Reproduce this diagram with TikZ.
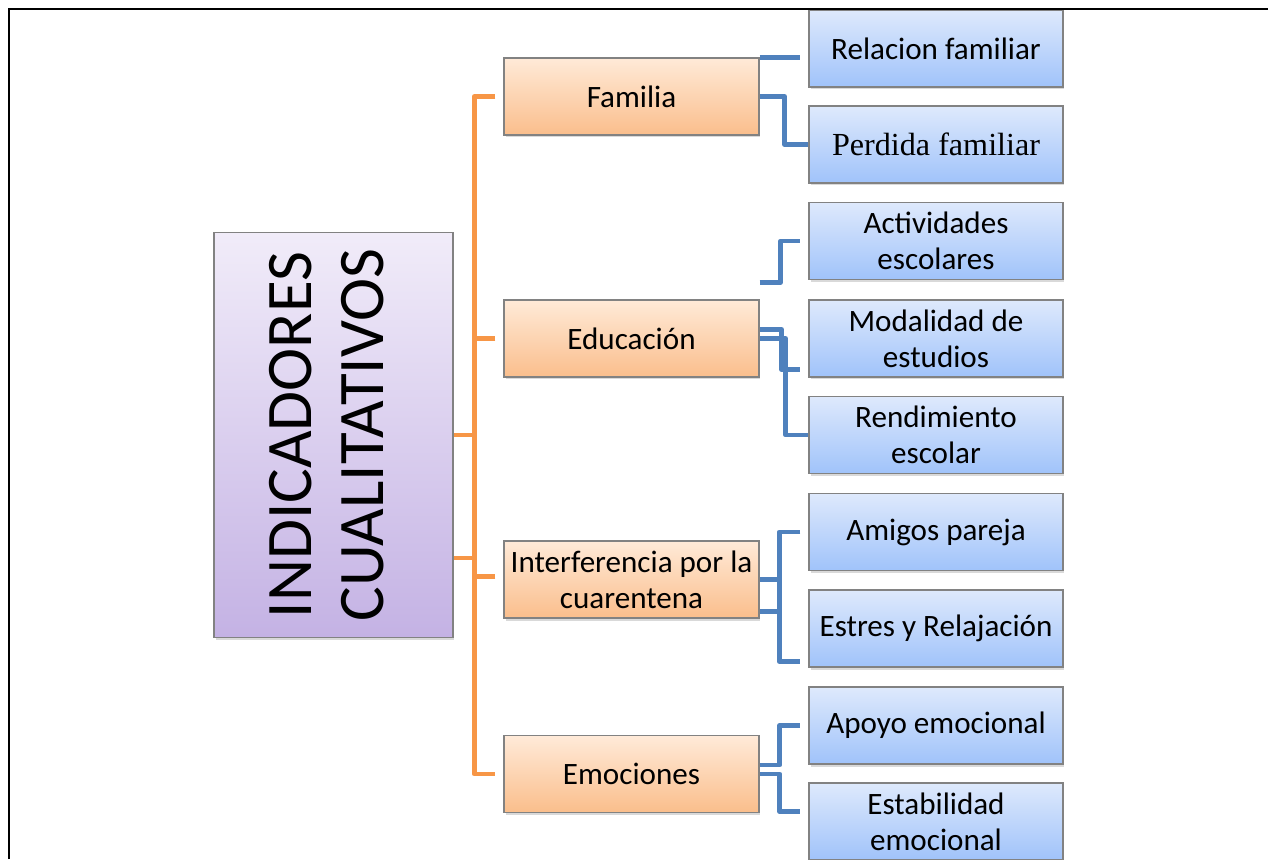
\documentclass[tikz,border=0pt]{standalone}
\usepackage{fontspec}
\setmainfont{Carlito}
\newfontfamily\cambriafont{Liberation Serif}
\usepackage{graphicx}
\usetikzlibrary{calc,shadows}

\definecolor{borde}{RGB}{130,130,130}
\definecolor{naranja}{RGB}{247,150,70}
\definecolor{azul}{RGB}{79,129,189}
\definecolor{naranjaA}{RGB}{255,234,216}
\definecolor{naranjaB}{RGB}{250,190,140}
\definecolor{azulA}{RGB}{222,233,252}
\definecolor{azulB}{RGB}{160,195,250}
\definecolor{moradoA}{RGB}{241,236,249}
\definecolor{moradoB}{RGB}{196,178,228}

\begin{document}
\begin{tikzpicture}[x=0.02cm, y=-0.02cm,
            basebox/.style={draw=borde, line width=0.8pt, inner sep=1pt, align=center,
                font=\fontsize{17.7}{20.5}\selectfont,
                drop shadow={shadow xshift=0.03cm, shadow yshift=-0.05cm, opacity=0.3}},
            mainbox/.style={basebox, top color=moradoA, bottom color=moradoB,
                minimum width=4.78cm, minimum height=8.1cm, inner sep=0pt,
                font=\fontsize{37}{41}\selectfont},
            catbox/.style={basebox, top color=naranjaA, bottom color=naranjaB,
                minimum width=5.1cm, minimum height=1.54cm},
            leafbox/.style={basebox, top color=azulA, bottom color=azulB,
                minimum width=5.08cm, minimum height=1.54cm},
            orangeline/.style={draw=naranja, line width=2.8pt, line join=round},
            blueline/.style={draw=azul, line width=2.7pt, line join=round}]
            \useasboundingbox (0,0) rectangle (1268,859);
            % cuadro principal
            \draw (333.5,435) node[mainbox] (ind)
                {\rotatebox{90}{\begin{tabular}{@{}c@{}}INDICADORES\\CUALITATIVOS\end{tabular}}};
            % categorias
            \draw (631.5,96.5) node[catbox] (fam) {Familia};
            \draw (631.5,338.5) node[catbox] (edu) {Educación};
            \draw (631.5,579.5) node[catbox] (intf) {Interferencia por la\\cuarentena};
            \draw (631.5,774) node[catbox] (emo) {Emociones};
            % indicadores
            \draw (936,48.5) node[leafbox] (rel) {Relacion familiar};
            \draw (936,144.5) node[leafbox, font=\cambriafont\fontsize{18.3}{21}\selectfont] (per) {Perdida familiar};
            \draw (936,241) node[leafbox] (act) {Actividades\\escolares};
            \draw (936,338.5) node[leafbox] (mod) {Modalidad de\\estudios};
            \draw (936,435) node[leafbox] (ren) {Rendimiento\\escolar};
            \draw (936,532) node[leafbox] (ami) {Amigos pareja};
            \draw (936,628.5) node[leafbox] (est) {Estres y Relajación};
            \draw (936,725.5) node[leafbox] (apo) {Apoyo emocional};
            \draw (936,821.5) node[leafbox] (estab) {Estabilidad\\emocional};
            % conectores naranjas
            \draw[orangeline] ($(fam.west)+(-8,0)$) -- ++(-21,0) |- ($(emo.west)+(-8,0)$);
            \draw[orangeline] ($(edu.west)+(-8,0)$) -- ++(-21,0);
            \draw[orangeline] ($(intf.west)+(-8,-3)$) -- ++(-21,0);
            \draw[orangeline] (ind.east) -- ++(22,0);
            \draw[orangeline] ($(ind.east)+(0,123)$) -- ++(22,0);
            % conectores azules
            \coordinate (suelto) at ($(edu.north east)+(0,-17)$);
            \draw[blueline] (fam.north east) -- ($(fam.north east -| rel.west)+(-8,0)$);
            \draw[blueline] (fam.east) -- ++(25,0) |- (per.west);
            \draw[blueline] (suelto) -- ++(21,0) |- ($(act.west)+(-8,0)$);
            \draw[blueline] ($(edu.east)+(0,-9)$) -- ++(22,0) |- ($(mod.west)+(-8,31)$);
            \draw[blueline] (edu.east) -- ++(26,0) |- (ren.west);
            \draw[blueline] ($(ami.west)+(-8,0)$) -| ($(est.west)+(-29,33)$) -- ++(21,0);
            \draw[blueline] (intf.east) -- ++(21,0);
            \draw[blueline] ($(intf.east)+(0,32)$) -- ++(21,0);
            \draw[blueline] ($(emo.east)+(0,-9)$) -- ++(20,0) |- ($(apo.west)+(-8,0)$);
            \draw[blueline] (emo.east) -- ++(20,0) |- ($(estab.west)+(-8,-10)$);
            % marco
            \draw[line width=1.1pt] (9,859) -- (9,9) -- (1268,9);
        \end{tikzpicture}
\end{document}
